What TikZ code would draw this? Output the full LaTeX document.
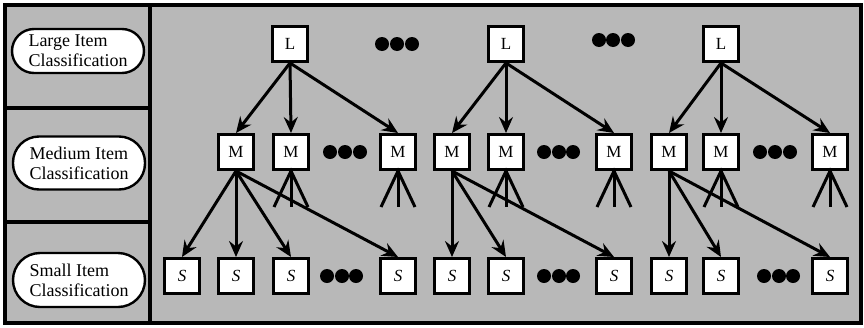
\documentclass[tikz,border=0pt]{standalone}
\usepackage{fontspec}
\setmainfont{Liberation Serif}
\usetikzlibrary{arrows.meta}
\begin{document}
\begin{tikzpicture}[x=1pt,y=-1pt,
  frame/.style={line width=3.5pt},
  lab/.style={draw=black, line width=2.4pt, fill=white, minimum width=132pt, align=left, inner sep=0pt, font=\fontsize{18}{20}\selectfont},
  box/.style={draw=black, line width=3pt, fill=white, minimum width=35pt, minimum height=35pt, inner sep=0pt, font=\fontsize{17}{17}\selectfont},
  dotnode/.style={circle, fill=black, minimum size=14pt, inner sep=0pt},
  arr/.style={line width=3pt, -{Stealth[length=16pt,width=14pt,inset=5.5pt]}},
  leg/.style={line width=3pt}
]
\useasboundingbox (0,0) rectangle (864,327);
\fill[black!28] (5,5) rectangle (861,323);
\draw[frame] (5,5) rectangle (861,323);
\draw[frame] (150,5) -- (150,323);
\draw[frame] (5,108) -- (150,108);
\draw[frame] (5,222) -- (150,222);

% level labels
\node[lab, minimum height=44pt, rounded corners=22pt] (lg) at (78,51) {Large Item\\Classification};
\node[lab, minimum height=53pt, rounded corners=26pt] (md) at (79,163) {Medium Item\\Classification};
\node[lab, minimum height=54pt, rounded corners=27pt] (sm) at (79,280) {Small Item\\Classification};

% large
\node[box] (L1) at (290,44) {L};
\node[box] (L2) at (506,44) {L};
\node[box] (L3) at (721,44) {L};
\foreach \x [count=\i] in {382,397,412}{\node[dotnode] (la\i) at (\x,44) {};}
\foreach \x [count=\i] in {599,613,628}{\node[dotnode] (lb\i) at (\x,40) {};}

% medium
\foreach \x [count=\i] in {236,291,398,452,506,614,669,721,830}{\node[box] (M\i) at (\x,152) {M};}
\foreach \x [count=\i] in {330,345,360}{\node[dotnode] (ma\i) at (\x,152) {};}
\foreach \x [count=\i] in {544,559,573}{\node[dotnode] (mb\i) at (\x,152) {};}
\foreach \x [count=\i] in {760,775,790}{\node[dotnode] (mc\i) at (\x,152) {};}

% small
\foreach \x [count=\i] in {182,236,291,398,452,506,614,669,721,830}{\node[box] (S\i) at (\x,276) {\textit{S}};}
\foreach \x [count=\i] in {327,342,356}{\node[dotnode] (sa\i) at (\x,276) {};}
\foreach \x [count=\i] in {544,559,573}{\node[dotnode] (sb\i) at (\x,276) {};}
\foreach \x [count=\i] in {764,779,793}{\node[dotnode] (sc\i) at (\x,276) {};}

% L -> M
\foreach \m in {1,2,3}{\draw[arr] (L1.south) -- (M\m.north);}
\foreach \m in {4,5,6}{\draw[arr] (L2.south) -- (M\m.north);}
\foreach \m in {7,8,9}{\draw[arr] (L3.south) -- (M\m.north);}

% M -> S
\foreach \s in {1,2,3,4}{\draw[arr] (M1.south) -- (S\s.north);}
\foreach \s in {5,6,7}{\draw[arr] (M4.south) -- (S\s.north);}
\foreach \s in {8,9,10}{\draw[arr] (M7.south) -- (S\s.north);}

% legs
\foreach \m in {2,3,5,6,8,9}{
  \path (M\m.south) ++(-17,36) coordinate (M\m l) (M\m.south) ++(0,36) coordinate (M\m c) (M\m.south) ++(17,36) coordinate (M\m r);
  \draw[leg] (M\m l) -- (M\m.south) -- (M\m r);
  \draw[leg] (M\m.south) -- (M\m c);
}
\end{tikzpicture}
\end{document}
